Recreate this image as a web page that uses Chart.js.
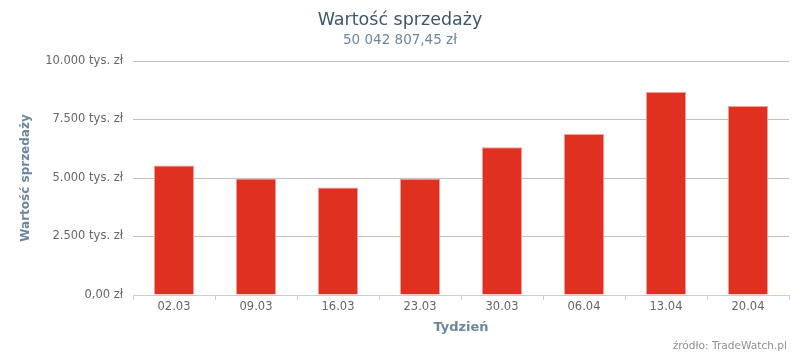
<!DOCTYPE html>
<html>
<head>
<meta charset="utf-8">
<script src="https://cdn.jsdelivr.net/npm/chart.js@4/dist/chart.umd.min.js"></script>
<style>
  html, body { margin: 0; padding: 0; background: #fff; }
  #wrap { width: 800px; height: 356px; position: relative; }
</style>
</head>
<body>
<div id="wrap"><canvas id="salesChart"></canvas></div>
<script>
// weeks (start date) and sales value in thousands of zł
const weeks = ['02.03', '09.03', '16.03', '23.03', '30.03', '06.04', '13.04', '20.04'];
const salesThousands = [5538, 4981, 4595, 4965, 6309, 6880, 8680, 8080];
const yTicks = [0, 2500, 5000, 7500, 10000];

const chartTitle = 'Wartość sprzedaży';
const chartSubtitle = '50 042 807,45 zł';
const creditText = 'źródło: TradeWatch.pl';

const FONT = "'DejaVu Sans', Verdana, sans-serif";

function formatTick(v) {
    if (v === 0) return '0,00 zł';
    // thousands separator is a dot here
    return String(v).replace(/\B(?=(\d{3})+(?!\d))/g, '.') + ' tys. zł';
}

// small text in the bottom right corner
const creditsPlugin = {
    id: 'credits',
    afterDraw(chart) {
        const c = chart.ctx;
        c.save();
        c.font = '10.6px ' + FONT;
        c.fillStyle = '#909090';
        c.textAlign = 'right';
        c.textBaseline = 'middle';
        c.fillText(creditText, 787, 346);
        c.restore();
    }
};

const ctx = document.getElementById('salesChart').getContext('2d');
const salesChart = new Chart(ctx, {
    type: 'bar',
    data: {
        labels: weeks,
        datasets: [{
            label: chartTitle,
            data: salesThousands,
            backgroundColor: '#E03020',
            borderColor: '#F1A097',
            borderWidth: 1,
            categoryPercentage: 1,
            barPercentage: 0.49
        }]
    },
    options: {
        responsive: true,
        maintainAspectRatio: false,
        animation: false,
        layout: { padding: { left: 11, right: 11, top: 0, bottom: 0 } },
        plugins: {
            legend: { display: false },
            tooltip: { enabled: false },
            title: {
                display: true,
                text: chartTitle,
                color: '#3E576F',
                font: { family: FONT, size: 17.5, weight: 'normal' },
                padding: { top: 10, bottom: 0 }
            },
            subtitle: {
                display: true,
                text: chartSubtitle,
                color: '#6D869F',
                font: { family: FONT, size: 13.5, weight: 'normal' },
                padding: { top: 1.4, bottom: 12.4 }
            }
        },
        scales: {
            x: {
                grid: {
                    drawOnChartArea: false,
                    drawTicks: true,
                    tickLength: 5,
                    color: '#C0D0E0'
                },
                border: { color: '#C0D0E0', width: 1 },
                ticks: {
                    color: '#666666',
                    padding: 0,
                    font: { family: FONT, size: 11.5 }
                },
                title: {
                    display: true,
                    text: 'Tydzień',
                    color: '#6D869F',
                    font: { family: FONT, size: 13, weight: 'bold' },
                    padding: { top: 0, bottom: 21 }
                },
                afterFit(scale) { scale.height = 61; }
            },
            y: {
                min: 0,
                max: 10000,
                afterBuildTicks(scale) {
                    scale.ticks = yTicks.map(v => ({ value: v }));
                },
                grid: {
                    drawTicks: false,
                    color: c => c.index === 0 ? 'rgba(0,0,0,0)' : '#C0C0C0'
                },
                border: { display: false },
                ticks: {
                    color: '#666666',
                    padding: 10,
                    font: { family: FONT, size: 11.5 },
                    callback: v => formatTick(v)
                },
                title: {
                    display: true,
                    text: 'Wartość sprzedaży',
                    color: '#6D869F',
                    font: { family: FONT, size: 12, weight: 'bold' },
                    padding: { top: 8, bottom: 0 }
                },
                afterFit(scale) { scale.width = 122; }
            }
        }
    },
    plugins: [creditsPlugin]
});
</script>
</body>
</html>
